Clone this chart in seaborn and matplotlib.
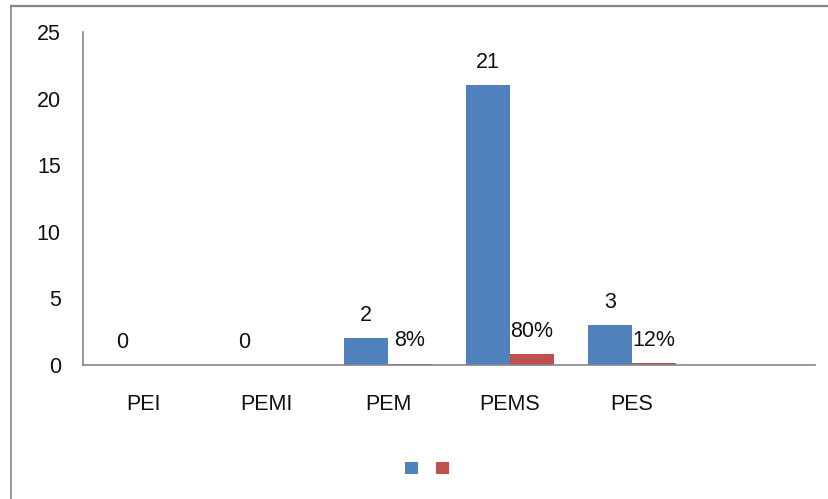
import matplotlib
matplotlib.use("Agg")
import matplotlib.pyplot as plt
from matplotlib.patches import Patch
from matplotlib.lines import Line2D
import seaborn as sns
import pandas as pd

categories = ["PEI", "PEMI", "PEM", "PEMS", "PES"]
counts = [0, 0, 2, 21, 3]
shares = [0.0, 0.0, 0.08, 0.80, 0.12]
count_labels = ["0", "0", "2", "21", "3"]
share_labels = ["", "", "8%", "80%", "12%"]
series = ["count", "share"]
colors = ["#4F81BD", "#C0504D"]
yticks = [0, 5, 10, 15, 20, 25]

df = pd.DataFrame({
    "cat": categories * 2,
    "value": counts + shares,
    "series": [series[0]] * len(categories) + [series[1]] * len(categories),
})

sns.set_theme(style="white")
plt.rcParams["font.family"] = ["Liberation Sans", "DejaVu Sans"]

fig = plt.figure(figsize=(8.29, 4.99), dpi=100)
ax = fig.add_axes([83 / 829, 134 / 499, (815 - 83) / 829, (365 - 32) / 499])

sns.barplot(data=df, x="cat", y="value", hue="series", order=categories,
            hue_order=series, palette=colors, width=0.72, gap=0,
            saturation=1, errorbar=None, legend=False, linewidth=0,
            edgecolor="none", ax=ax)

for cont, labs in zip(ax.containers, [count_labels, share_labels]):
    ax.bar_label(cont, labels=labs, padding=9, fontsize=15.5, color="#111111")

ax.set_xlim(-0.5, 5.5)
ax.set_ylim(0, 25)
ax.set_yticks(yticks)
ax.set_xlabel("")
ax.set_ylabel("")
ax.tick_params(axis="y", length=0, pad=16, labelsize=15.5, labelcolor="#111111")
ax.tick_params(axis="x", length=0, pad=21, labelsize=15.5, labelcolor="#111111")
for s in ["top", "right"]:
    ax.spines[s].set_visible(False)
for s in ["left", "bottom"]:
    ax.spines[s].set_color("#868686")
    ax.spines[s].set_linewidth(1.2)

handles = [Patch(facecolor=c, edgecolor="none") for c in colors]
fig.legend(handles, ["", ""], loc="center", bbox_to_anchor=(427 / 829, 1 - 469 / 499),
           ncol=2, frameon=False, fontsize=10, handlelength=0.95, handleheight=0.95,
           handletextpad=0, columnspacing=1.3, borderpad=0)

# outer chart border (top and left visible)
fig.add_artist(Line2D([11 / 829, 1.0], [1 - 5.5 / 499, 1 - 5.5 / 499],
                      transform=fig.transFigure, color="#868686", lw=1.6))
fig.add_artist(Line2D([11 / 829, 11 / 829], [0, 1 - 5.5 / 499],
                      transform=fig.transFigure, color="#868686", lw=1.2))

fig.savefig("out.png", dpi=100)
